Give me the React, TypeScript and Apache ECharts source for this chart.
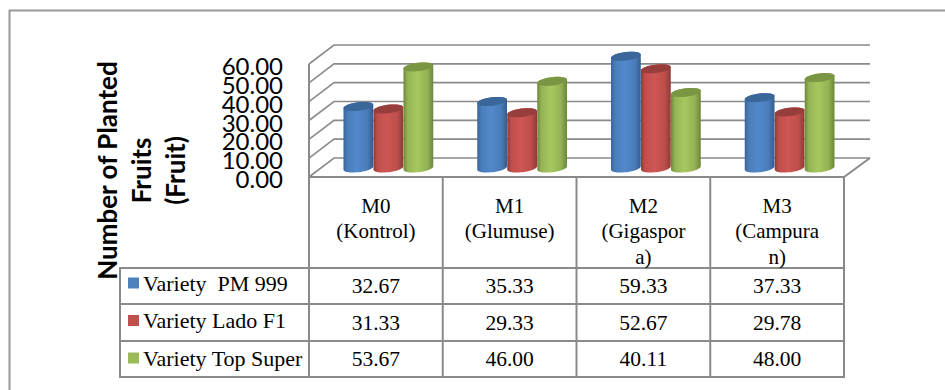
import React, { useEffect, useRef } from "react";
import * as echarts from "echarts";

// Fruit counts per mycorrhiza treatment, one list for each variety.
const categories = ["M0\n(Kontrol)", "M1\n(Glumuse)", "M2\n(Gigaspor\na)", "M3\n(Campura\nn)"];
const varieties = ["Variety  PM 999", "Variety Lado F1", "Variety Top Super"];
const pm999 = [32.67, 35.33, 59.33, 37.33];
const ladoF1 = [31.33, 29.33, 52.67, 29.78];
const topSuper = [53.67, 46.0, 40.11, 48.0];
const yTicks = [0, 10, 20, 30, 40, 50, 60];
const axisTitle = "Number of Planted\nFruits\n(Fruit)";

const seriesValues = [pm999, ladoF1, topSuper];
const legendColors = ["#4f81bd", "#c0504d", "#9bbb59"];
const sideStops = [
  ["#39659c", "#4a7dba", "#5289cb", "#4a7cb8", "#345d90"],
  ["#8f3b39", "#bf4f4c", "#cf5654", "#bd4e4b", "#8c3a38"],
  ["#6d8838", "#94b455", "#a6c860", "#93b254", "#6c8638"],
];
const capColors = ["#3a6699", "#973e3c", "#7a9643"];

// Front plane of the box and its shift to the back wall.
const plot = { left: 309, right: 844, top: 64, bottom: 177 };
const depth = { dx: 25, dy: -19 };
const barWidth = 30;
const barShiftY = -9;
const lineColor = "#8a8a8a";

// Data table beneath the plot.
const tableLeft = 120;
const rowLines = [268, 304, 341, 377];
const font = "'Liberation Serif', 'Times New Roman', serif";
const titleFont = "Lato, 'Open Sans', sans-serif";

function ellipsePoints(cx: number, cy: number, from: number, to: number) {
  const rx = barWidth / 2;
  const ry = 4.2;
  const tilt = (-7 * Math.PI) / 180;
  const pts: number[][] = [];
  const steps = 24;
  for (let i = 0; i <= steps; i++) {
    const a = from + ((to - from) * i) / steps;
    const ex = rx * Math.cos(a);
    const ey = ry * Math.sin(a);
    pts.push([cx + ex * Math.cos(tilt) - ey * Math.sin(tilt), cy + ex * Math.sin(tilt) + ey * Math.cos(tilt)]);
  }
  return pts;
}

// One cylinder: body first, then the darker cap on top.
function cylinderRenderer(seriesIdx: number) {
  return (_params: any, api: any) => {
    const cat = api.value(0);
    const top = api.coord([cat, api.value(1)]);
    const base = api.coord([cat, 0]);
    const cx = top[0] + depth.dx / 2 + (seriesIdx - 1) * barWidth;
    const topY = top[1] + barShiftY;
    const baseY = base[1] + barShiftY;
    const stops = sideStops[seriesIdx];
    const body = [
      ...ellipsePoints(cx, baseY, Math.PI, 0),
      ...ellipsePoints(cx, topY, 0, -Math.PI),
    ];
    return {
      type: "group",
      children: [
        {
          type: "polygon",
          shape: { points: body },
          style: {
            fill: {
              type: "linear",
              x: 0,
              y: 0,
              x2: 1,
              y2: 0,
              colorStops: stops.map((color, i) => ({ offset: [0, 0.14, 0.45, 0.8, 1][i], color })),
            },
          },
        },
        {
          type: "polygon",
          shape: { points: ellipsePoints(cx, topY, 0, Math.PI * 2) },
          style: { fill: capColors[seriesIdx] },
        },
      ],
    };
  };
}

// Wall rules and the value label, one set per tick. The labels sit closer
// together than their own height, so the axis would drop some of them.
function wallRenderer(_params: any, api: any) {
  const v = api.value(0);
  const band = api.size([1, 0])[0];
  const left = api.coord([0, v])[0] - band / 2;
  const right = api.coord([categories.length - 1, v])[0] + band / 2;
  const y = api.coord([0, v])[1];
  return {
    type: "group",
    children: [
      {
        type: "polyline",
        shape: {
          points: [
            [left, y],
            [left + depth.dx, y + depth.dy],
            [right + depth.dx + 1, y + depth.dy],
          ],
        },
        style: { stroke: lineColor, lineWidth: 1.6, fill: "none" },
      },
      {
        type: "text",
        x: left - 26,
        y: y + 1.5,
        style: {
          text: v.toFixed(2),
          font: `24px ${titleFont}`,
          fill: "#000000",
          textAlign: "right",
          textVerticalAlign: "middle",
        },
      },
    ],
  };
}

function tableGraphics() {
  const band = (plot.right - plot.left) / categories.length;
  const stroke = { stroke: lineColor, lineWidth: 2 };
  const elements: any[] = [];
  const line = (x1: number, y1: number, x2: number, y2: number) =>
    elements.push({ type: "line", shape: { x1, y1, x2, y2 }, style: stroke, silent: true });

  // Card outline: only the top and left edges fall inside the frame.
  elements.push({
    type: "polyline",
    shape: { points: [[945, 10.5], [9.5, 10.5], [9.5, 390]] },
    style: { stroke: "#999999", lineWidth: 2, fill: "none" },
    silent: true,
  });

  // Side wall upright, floor and its right-hand edge.
  line(plot.left, plot.top, plot.left, plot.bottom);
  line(plot.left - 1, plot.bottom, plot.right + 1, plot.bottom);
  line(plot.right, plot.bottom, plot.right + depth.dx + 1, plot.bottom + depth.dy);

  rowLines.forEach((y) => line(tableLeft - 1, y, plot.right + 1, y));
  line(tableLeft, rowLines[0], tableLeft, rowLines[rowLines.length - 1]);
  categories.forEach((_c, i) => line(plot.left + i * band, plot.bottom, plot.left + i * band, rowLines[3]));
  line(plot.right, plot.bottom, plot.right, rowLines[3]);

  seriesValues.forEach((values, row) => {
    values.forEach((v, col) => {
      elements.push({
        type: "text",
        x: plot.left + (col + 0.5) * band,
        y: (rowLines[row] + rowLines[row + 1]) / 2,
        style: {
          text: v.toFixed(2),
          font: `21.5px ${font}`,
          fill: "#000000",
          textAlign: "center",
          textVerticalAlign: "middle",
        },
        silent: true,
      });
    });
  });
  return elements;
}

export default function App() {
  const ref = useRef<HTMLDivElement>(null);

  useEffect(() => {
    document.body.style.margin = "0";
    const chart = echarts.init(ref.current!, undefined, { renderer: "svg" });
    chart.setOption({
      animation: false,
      backgroundColor: "#ffffff",
      color: legendColors,
      grid: {
        left: plot.left,
        top: plot.top,
        width: plot.right - plot.left,
        height: plot.bottom - plot.top,
        outerBoundsMode: "none",
      },
      legend: {
        orient: "vertical",
        left: 128,
        top: 272,
        itemWidth: 11,
        itemHeight: 11,
        itemGap: 15.5,
        padding: 0,
        selectedMode: false,
        data: varieties.map((name) => ({ name, icon: "rect" })),
        textStyle: { fontFamily: font, fontSize: 22, color: "#000000", padding: [0, 0, 0, -1], lineHeight: 21 },
      },
      xAxis: {
        type: "category",
        data: categories,
        axisLine: { show: false },
        axisTick: { show: false },
        splitLine: { show: false },
        axisLabel: {
          interval: 0,
          margin: 16,
          fontFamily: font,
          fontSize: 21,
          lineHeight: 25.5,
          color: "#000000",
          verticalAlign: "top",
        },
      },
      yAxis: {
        type: "value",
        min: 0,
        max: 60,
        interval: 10,
        axisLine: { show: false },
        axisTick: { show: false },
        splitLine: { show: false },
        axisLabel: { show: false },
        name: axisTitle,
        nameLocation: "middle",
        nameRotate: 90,
        nameGap: 117,
        nameTextStyle: {
          fontFamily: titleFont,
          fontWeight: "bold",
          fontSize: 26,
          lineHeight: 34,
          color: "#000000",
          padding: [0, 100, 0, 0],
        },
      },
      graphic: { elements: tableGraphics() },
      series: [
        {
          type: "custom",
          name: "walls",
          data: yTicks.map((v) => [v]),
          encode: { y: 0 },
          renderItem: wallRenderer,
          silent: true,
          z: 1,
        },
        ...seriesValues.map((values, s) => ({
          type: "custom",
          name: varieties[s],
          itemStyle: { color: legendColors[s] },
          data: values.map((v, i) => [i, v]),
          encode: { x: 0, y: 1 },
          renderItem: cylinderRenderer(s),
          silent: true,
          z: 2 + s,
        })),
      ],
    });
    return () => chart.dispose();
  }, []);

  return <div ref={ref} style={{ width: 945, height: 390 }} />;
}
